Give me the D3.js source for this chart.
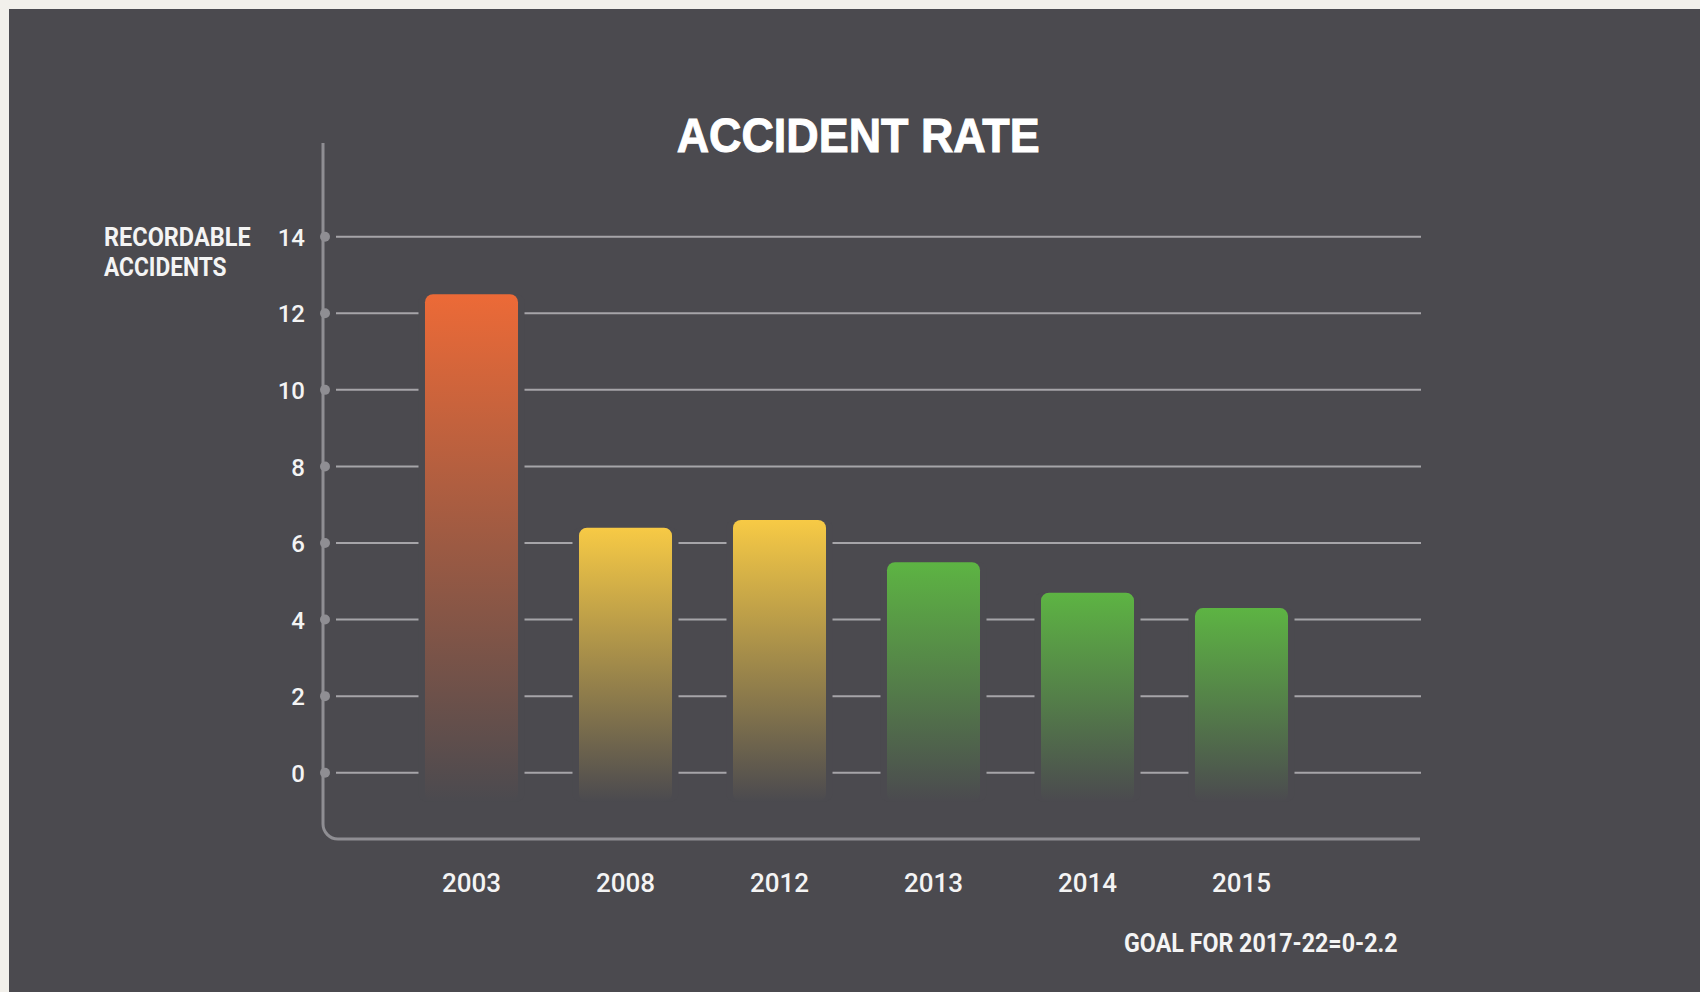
<!DOCTYPE html>
<html>
<head>
<meta charset="utf-8">
<script src="https://cdn.jsdelivr.net/npm/d3@7"></script>
<style>
  html, body { margin: 0; padding: 0; background: #f2f0eb; }
  svg { display: block; }
</style>
</head>
<body>
<svg id="chart" width="1700" height="992"></svg>
<script>
// ---- data ----
const years = ["2003", "2008", "2012", "2013", "2014", "2015"];
const rates = [12.5, 6.4, 6.6, 5.5, 4.7, 4.3];
const barColors = ["#ec6a37", "#f7ca45", "#f7ca45", "#5db443", "#5db443", "#5db443"];
const yTicks = [0, 2, 4, 6, 8, 10, 12, 14];
const titleText = "ACCIDENT RATE";
const yLabelLines = ["RECORDABLE", "ACCIDENTS"];
const goalText = "GOAL FOR 2017-22=0-2.2";

// ---- styles / layout ----
const BG = "#4b4a4f";
const AXIS_COLOR = "#8f8e93";
const GRID_COLOR = "#a6a5a9";
const TEXT_COLOR = "#f4f4f4";
const BAR_FLOOR = -0.75; // bars fade out a little below zero

const svg = d3.select("#chart");

svg.append("rect").attr("x", 0).attr("y", 0).attr("width", 1700).attr("height", 992).attr("fill", "#f2f0eb");
svg.append("rect").attr("x", 9).attr("y", 9).attr("width", 1691).attr("height", 983).attr("fill", BG);

const y = d3.scaleLinear().domain([0, 14]).range([772.7, 236.7]);
const x = d3.scaleBand().domain(years).range([425, 1288]).paddingInner(0.396).paddingOuter(0);

const data = years.map((yr, i) => ({ year: yr, value: rates[i], color: barColors[i] }));

// gradients
const defs = svg.append("defs");
data.forEach((d, i) => {
  const g = defs.append("linearGradient").attr("id", "grad" + i)
    .attr("x1", 0).attr("y1", 0).attr("x2", 0).attr("y2", 1);
  g.append("stop").attr("offset", "0%").attr("stop-color", d.color);
  g.append("stop").attr("offset", "100%").attr("stop-color", BG);
});

// title
svg.append("text")
  .attr("x", 676.7).attr("y", 151.7)
  .attr("textLength", 363).attr("lengthAdjust", "spacingAndGlyphs")
  .attr("font-family", "'Liberation Sans', Arial, sans-serif")
  .attr("font-weight", "bold").attr("font-size", 49)
  .attr("fill", "#ffffff").attr("stroke", "#ffffff").attr("stroke-width", 1)
  .text(titleText);

// y-axis label
const lblWidths = [146.6, 122.5];
yLabelLines.forEach((t, i) => {
  svg.append("text")
    .attr("x", 104).attr("y", 246 + i * 30)
    .attr("textLength", lblWidths[i]).attr("lengthAdjust", "spacingAndGlyphs")
    .attr("font-family", "'Liberation Sans Narrow', 'Roboto', sans-serif")
    .attr("font-weight", "bold").attr("font-size", 25)
    .attr("fill", TEXT_COLOR)
    .text(t);
});

// gridlines
svg.append("g").selectAll("line").data(yTicks).join("line")
  .attr("x1", 336).attr("x2", 1421)
  .attr("y1", d => y(d)).attr("y2", d => y(d))
  .attr("stroke", GRID_COLOR).attr("stroke-width", 2);

// frame axis line with rounded corner
svg.append("path")
  .attr("d", "M323,143 V824 A15,15 0 0 0 338,839 H1420")
  .attr("fill", "none").attr("stroke", AXIS_COLOR).attr("stroke-width", 3);

// tick dots
svg.append("g").selectAll("circle").data(yTicks).join("circle")
  .attr("cx", 325).attr("cy", d => y(d)).attr("r", 5)
  .attr("fill", AXIS_COLOR);

// y tick labels via axis
const yAxisG = svg.append("g").attr("transform", "translate(305,0)")
  .call(d3.axisLeft(y).tickValues(yTicks).tickSize(0).tickPadding(0).tickFormat(d3.format("d")));
yAxisG.select(".domain").remove();
yAxisG.selectAll("text")
  .attr("font-family", "Roboto, sans-serif").attr("font-size", 24).attr("font-weight", 500)
  .attr("fill", TEXT_COLOR).attr("dy", "0.36em");

// bar gap masks (break gridlines around bars)
const gap = 6.5;
svg.append("g").selectAll("rect").data(data).join("rect")
  .attr("x", d => x(d.year) - gap)
  .attr("width", x.bandwidth() + gap * 2)
  .attr("y", d => y(d.value))
  .attr("height", d => y(BAR_FLOOR) - y(d.value))
  .attr("rx", 8).attr("fill", BG);

// bars
svg.append("g").selectAll("rect").data(data).join("rect")
  .attr("x", d => x(d.year))
  .attr("width", x.bandwidth())
  .attr("y", d => y(d.value))
  .attr("height", d => y(BAR_FLOOR) - y(d.value))
  .attr("rx", 8)
  .attr("fill", (d, i) => `url(#grad${i})`);

// x labels via axis
const xAxisG = svg.append("g").attr("transform", "translate(0,874)")
  .call(d3.axisBottom(x).tickSize(0).tickPadding(0));
xAxisG.select(".domain").remove();
xAxisG.selectAll("text")
  .attr("font-family", "Roboto, sans-serif").attr("font-size", 26).attr("font-weight", 500)
  .attr("fill", TEXT_COLOR);

// goal note
svg.append("text")
  .attr("x", 1124).attr("y", 951.7)
  .attr("textLength", 273.6).attr("lengthAdjust", "spacingAndGlyphs")
  .attr("font-family", "'Liberation Sans Narrow', 'Roboto', sans-serif")
  .attr("font-weight", "bold").attr("font-size", 26)
  .attr("fill", TEXT_COLOR)
  .text(goalText);
</script>
</body>
</html>
